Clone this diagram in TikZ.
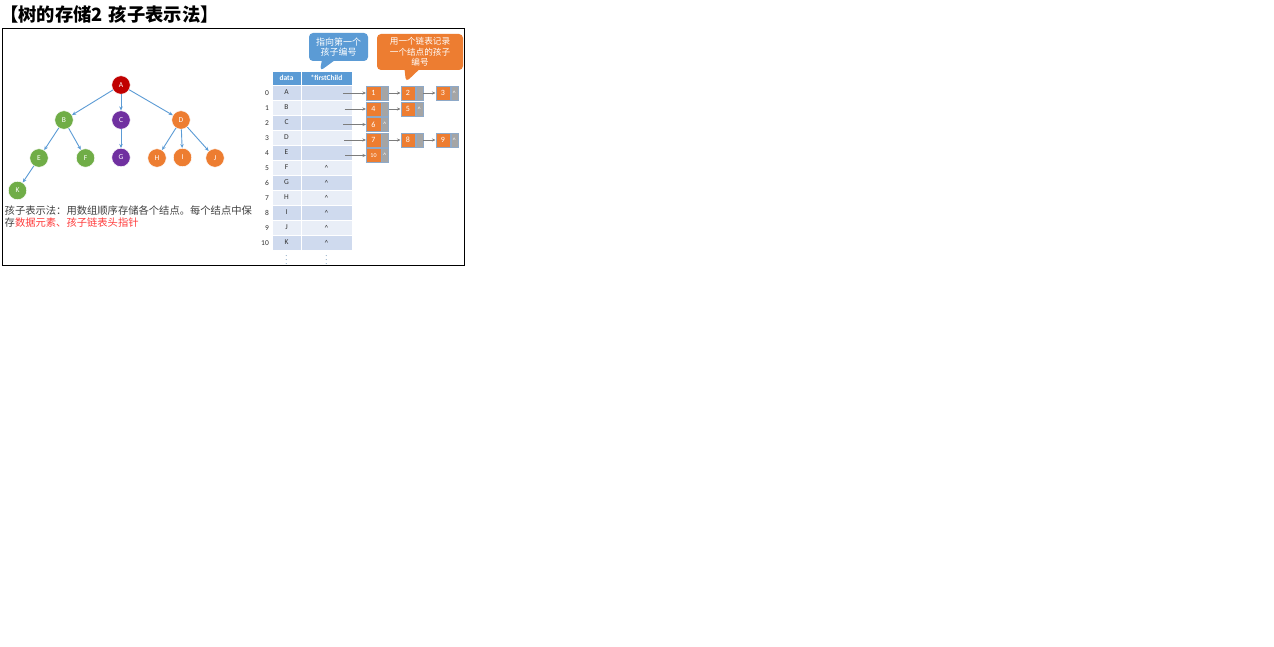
\documentclass[tikz,border=0pt]{standalone}
\usepackage{fontspec}
\setmainfont{Carlito}[Numbers=Lining]
\newfontfamily\cjk{Noto Sans CJK SC}
\usetikzlibrary{shapes.callouts,arrows.meta}
\definecolor{hdr}{HTML}{5B9BD5}
\definecolor{row0}{HTML}{CFDAEE}
\definecolor{row1}{HTML}{E9EEF7}
\definecolor{orng}{HTML}{ED7D31}
\definecolor{gry}{HTML}{A5A5A5}
\definecolor{tred}{HTML}{C00000}
\definecolor{tgreen}{HTML}{70AD47}
\definecolor{tpurple}{HTML}{7030A0}
\definecolor{edgeblue}{HTML}{5B9BD5}
\definecolor{capgray}{HTML}{404040}
\definecolor{capred}{HTML}{FF3B3B}
\definecolor{lborder}{HTML}{8EA9C8}
\newcommand\listnode[5]{%
  \node[lor] (#1) at (#2,#3) {#4};
  \node[lgr,anchor=west] (#1p) at (#1.east) {#5};}
\begin{document}
\begin{tikzpicture}[x=1pt,y=-1pt,
  tnode/.style={circle,minimum size=18.5pt,inner sep=0pt,draw=white,line width=0.5pt,
    text=white,font=\fontsize{7.5}{8}\selectfont},
  tedge/.style={draw=edgeblue,line width=0.9pt,-{Stealth[length=4pt,width=3.5pt]}},
  cell/.style={draw=white,line width=0.4pt,inner sep=0pt,minimum height=15pt,
    font=\fontsize{7.5}{9}\selectfont,text=black!80},
  hcell/.style={cell,minimum height=14pt,fill=hdr,text=white,font=\bfseries\fontsize{7.5}{9}\selectfont},
  idx/.style={anchor=east,inner sep=0pt,text height=5.2pt,text depth=0pt,
    font=\fontsize{7.5}{9}\selectfont,text=black!80},
  lor/.style={fill=orng,draw=lborder,line width=0.5pt,minimum width=14.5pt,minimum height=14pt,
    inner sep=0pt,text=white,font=\fontsize{8}{9}\selectfont},
  lgr/.style={fill=gry,draw=lborder,line width=0.5pt,minimum width=7pt,minimum height=14pt,
    inner sep=0pt,text=white,font=\fontsize{6.5}{7}\selectfont},
  larr/.style={draw=gry!75!black,line width=0.7pt,-{Stealth[length=3.5pt,width=3pt]}},
  bubble/.style={rectangle callout,rounded corners=4pt,inner sep=1pt,text=white,align=center}
]
\useasboundingbox (0,0) rectangle (1274,647);
\fill[white] (0,0) rectangle (1274,647);

% title
\node[anchor=west,inner sep=0pt,font=\cjk\bfseries\fontsize{18.3}{20}\selectfont] (title) at (0,14)
  {【树的存储2\hspace{6pt}孩子表示法】};

% frame
\draw[line width=0.8pt] (2.5,28.5) rectangle (464.5,265.5);

% tree
\node[tnode,fill=tred]    (A) at (121,85)  {A};
\node[tnode,fill=tgreen]  (B) at (64,120)  {B};
\node[tnode,fill=tpurple] (C) at (121,120) {C};
\node[tnode,fill=orng]    (D) at (181,120) {D};
\node[tnode,fill=tgreen]  (E) at (39,158)  {E};
\node[tnode,fill=tgreen]  (F) at (85.5,158) {F};
\node[tnode,fill=tpurple] (G) at (121,157.5) {G};
\node[tnode,fill=orng]    (H) at (157,158) {H};
\node[tnode,fill=orng]    (I) at (182.5,157.5) {I};
\node[tnode,fill=orng]    (J) at (215,158) {J};
\node[tnode,fill=tgreen]  (K) at (17.5,190.5) {K};
\foreach \p/\c in {A/B,A/C,A/D,B/E,B/F,C/G,D/H,D/I,D/J,E/K}
  \draw[tedge] (\p) -- (\c);

% caption
\node[anchor=north west,inner sep=0pt,align=left,text=capgray,
  font=\cjk\fontsize{10.3}{12}\selectfont] (cap) at (4.5,205.5)
  {孩子表示法：用数组顺序存储各个结点。每个结点中保\\存\textcolor{capred}{数据元素、孩子链表头指针}};

% table header
\node[hcell,minimum width=29pt] (hd) at (286.5,78) {data};
\node[hcell,minimum width=51pt] (hf) at (326.5,78) {*firstChild};
% table rows
\foreach \l/\q [count=\i from 0, evaluate=\i as \c using {int(mod(\i,2))},
  evaluate=\i as \y using {92.5+15*\i}] in
  {A/,B/,C/,D/,E/,F/\textasciicircum,G/\textasciicircum,H/\textasciicircum,
   I/\textasciicircum,J/\textasciicircum,K/\textasciicircum}{
  \node[cell,fill=row\c,minimum width=29pt] (d\i) at (286.5,\y) {\l};
  \node[cell,fill=row\c,minimum width=51pt] (f\i) at (326.5,\y) {\q};
  \node[idx] (n\i idx) at (269,\y) {\i};
}
\node[inner sep=0pt,text=edgeblue!60!gray,font=\fontsize{8}{8}\selectfont] (dd) at (286.5,257.5) {$\vdots$};
\node[inner sep=0pt,text=edgeblue!60!gray,font=\fontsize{8}{8}\selectfont] (fd) at (326.5,257.5) {$\vdots$};

% linked lists
\listnode{L1}{373.5}{93}{1}{}
\listnode{L2}{408}{93}{2}{}
\listnode{L3}{443}{93}{3}{\textasciicircum}
\listnode{L4}{373.5}{109}{4}{}
\listnode{L5}{408}{109}{5}{\textasciicircum}
\listnode{L6}{373.5}{124.5}{6}{\textasciicircum}
\listnode{L7}{373.5}{140}{7}{}
\listnode{L8}{408}{140}{8}{}
\listnode{L9}{443}{140}{9}{\textasciicircum}
\node[lor,font=\fontsize{6}{7}\selectfont] (L10) at (373.5,155.5) {10};
\node[lgr,anchor=west] (L10p) at (L10.east) {\textasciicircum};

\coordinate (s0) at (343,93);
\coordinate (s1) at (344.5,109);
\coordinate (s2) at (343,124.5);
\coordinate (s3) at (344,140);
\coordinate (s4) at (345,155.5);
\draw[larr] (s0) -- (L1);
\draw[larr] (s1) -- (L4);
\draw[larr] (s2) -- (L6);
\draw[larr] (s3) -- (L7);
\draw[larr] (s4) -- (L10);
\draw[larr] (L1p) -- (L2);
\draw[larr] (L2p) -- (L3);
\draw[larr] (L4p) -- (L5);
\draw[larr] (L7p) -- (L8);
\draw[larr] (L8p) -- (L9);

% callouts
\node[bubble,fill=hdr,minimum width=59pt,minimum height=28pt,
  font=\cjk\fontsize{9}{10}\selectfont,
  callout absolute pointer={(320,71)},callout pointer width=12pt] (cb) at (338.5,47)
  {指向第一个\\孩子编号};
\node[bubble,fill=orng,minimum width=86pt,minimum height=36pt,
  font=\cjk\fontsize{8.6}{10.5}\selectfont,
  callout absolute pointer={(406,82)},callout pointer width=14pt] (co) at (420,52)
  {用一个链表记录\\一个结点的孩子\\编号};
\end{tikzpicture}
\end{document}
